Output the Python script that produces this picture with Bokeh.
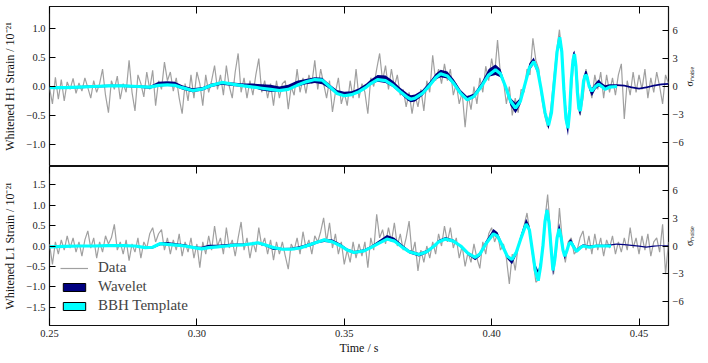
import math
from bokeh.plotting import figure
from bokeh.models import Range1d, LinearAxis, FixedTicker, Legend, LegendItem
from bokeh.layouts import column
from bokeh.embed import file_html
from bokeh.resources import INLINE

# ---------------- data ----------------
T0 = 0.250      # first sample time of the whitened data (s)
DT = 0.001      # sample spacing used for the read-off data (s)

h1_data = [
    -0.02, -0.30, 0.16, -0.22, 0.12, -0.25, 0.08, -0.05, 0.14, -0.12,
    0.06, -0.08, 0.15, -0.02, -0.20, 0.10, -0.10, 0.05, 0.30, -0.15,
    -0.45, 0.10, -0.05, 0.18, -0.22, 0.05, -0.10, 0.45, -0.10, -0.42,
    0.20, 0.05, -0.18, 0.25, -0.05, 0.28, -0.33, 0.10, -0.05, 0.42,
    0.10, 0.25, -0.08, 0.15, -0.20, -0.47, 0.05, -0.25, 0.20, -0.20,
    0.25, 0.05, -0.33, 0.20, -0.10, 0.10, 0.36, -0.05, 0.20, -0.15,
    0.36, 0.00, -0.20, 0.25, 0.57, -0.10, 0.15, -0.20, 0.10, -0.15,
    0.20, 0.48, -0.10, 0.10, -0.20, 0.05, -0.33, 0.10, -0.20, 0.05,
    0.10, -0.39, 0.00, -0.15, 0.30, -0.10, 0.15, -0.12, 0.20, 0.05,
    0.45, -0.05, 0.30, 0.05, -0.20, 0.10, -0.44, -0.10, 0.15, -0.30,
    -0.10, -0.33, 0.10, -0.20, 0.30, -0.20, 0.05, -0.10, -0.47, 0.15,
    0.00, 0.30, 0.57, 0.10, 0.36, -0.05, 0.30, 0.00, 0.20, -0.15,
    -0.05, -0.35, -0.10, -0.47, -0.15, -0.35, -0.05, -0.42, 0.10, -0.10,
    0.54, 0.10, 0.30, 0.05, 0.39, 0.10, 0.30, -0.15, 0.05, -0.30,
    -0.10, -0.70, -0.15, -0.40, 0.00, -0.30, 0.15, -0.10, 0.35, 0.10,
    0.48, 0.20, 0.80, 0.20, 0.10, -0.30, 0.00, -0.50, -0.20, -0.45,
    -0.05, -0.10, 0.30, 0.20, 0.83, 0.45, 0.30, -0.20, -0.50, -0.70,
    -0.40, 0.10, 0.60, 0.98, 0.50, -0.30, -0.70, -0.10, 0.55, 0.20,
    -0.50, -0.20, 0.30, 0.05, -0.20, 0.20, -0.05, 0.25, -0.20, 0.20,
    -0.10, 0.15, -0.15, 0.20, 0.39, -0.56, 0.10, -0.15, 0.25, -0.10,
    0.20, -0.05, 0.30, -0.20, 0.15, -0.10, 0.25, 0.00, -0.30, 0.20, 0.05,
]

l1_data = [
    0.05, -0.45, 0.10, -0.20, 0.15, -0.10, 0.25, -0.05, 0.20, -0.15,
    0.10, -0.25, 0.15, 0.37, -0.05, 0.20, -0.30, 0.10, -0.15, 0.25,
    0.05, 0.20, 0.53, -0.10, 0.10, -0.20, 0.15, -0.36, 0.05, -0.15,
    0.20, -0.30, 0.10, -0.05, 0.30, 0.45, 0.10, 0.30, 0.40, -0.10,
    0.20, -0.20, 0.15, -0.10, 0.30, -0.25, 0.10, -0.15, 0.20, -0.30,
    0.05, -0.53, 0.10, -0.20, 0.25, -0.10, 0.49, 0.00, 0.20, -0.20,
    0.45, -0.05, 0.15, -0.25, 0.20, 0.59, -0.10, 0.20, -0.30, 0.10,
    -0.15, 0.45, 0.00, 0.20, -0.20, 0.15, -0.35, 0.10, -0.20, 0.10,
    -0.25, -0.57, 0.05, -0.10, 0.20, -0.20, 0.35, -0.05, 0.15, -0.20,
    0.25, 0.10, 0.35, 0.69, 0.10, 0.57, -0.05, 0.30, -0.20, 0.10,
    -0.45, -0.10, -0.40, 0.10, -0.30, 0.05, -0.25, 0.10, -0.53, 0.20,
    -0.10, 0.78, 0.20, 0.40, 0.05, 0.45, 0.10, 0.57, 0.00, 0.30,
    -0.10, 0.20, 0.61, -0.20, 0.10, -0.61, -0.10, -0.40, 0.00, -0.30,
    0.10, -0.20, 0.30, 0.00, 0.49, 0.10, 0.45, -0.05, 0.20, -0.30,
    0.00, -0.50, -0.15, -0.40, 0.05, -0.30, -0.55, 0.10, -0.20, 0.30,
    0.45, 0.10, 0.30, -0.10, 0.05, -0.30, -0.93, -0.20, -0.60, 0.00,
    0.20, 0.50, 0.81, 0.30, -0.30, -0.89, -0.81, -0.20, 0.60, 1.26,
    0.30, -0.69, -0.10, 0.93, 0.10, -0.40, 0.10, 0.20, -0.20, -0.10,
    0.20, 0.37, -0.10, 0.25, -0.20, 0.30, -0.10, 0.20, -0.25, 0.15,
    -0.05, 0.25, -0.20, 0.10, -0.15, 0.20, -0.10, 0.45, -0.05, 0.20,
    -0.20, 0.25, -0.10, 0.30, -0.25, 0.10, 0.20, -0.15, 0.53, -0.69, 0.10,
]

data_t = [round(T0 + DT * i, 4) for i in range(len(h1_data))]

# H1 reconstructions
h1_wave_t = [
    0.250, 0.255, 0.260, 0.265, 0.270, 0.275, 0.280, 0.284, 0.287, 0.290,
    0.2925, 0.295, 0.2985, 0.302, 0.305, 0.3085, 0.312, 0.316, 0.319, 0.322,
    0.325, 0.328, 0.331, 0.334, 0.337, 0.340, 0.3425, 0.345, 0.3475, 0.350,
    0.3525, 0.355, 0.3575, 0.359, 0.3613, 0.364, 0.3665, 0.369, 0.3715, 0.3726,
    0.374, 0.3765, 0.379, 0.381, 0.3827, 0.385, 0.3872, 0.3895, 0.3917, 0.394,
    0.3965, 0.399, 0.4013, 0.403, 0.4047, 0.4064, 0.4081, 0.4097, 0.4112, 0.4128,
    0.4143, 0.4156, 0.4168, 0.4181, 0.4193, 0.4203, 0.4212, 0.4222, 0.4231, 0.4238,
    0.4245, 0.4252, 0.4259, 0.4265, 0.4270, 0.4276, 0.4281, 0.4286, 0.4291, 0.4296,
    0.4301, 0.4307, 0.4312, 0.4318, 0.4323, 0.4331, 0.4340, 0.4352, 0.4363, 0.4374,
    0.4385, 0.4400, 0.4425, 0.4450, 0.4475, 0.4500, 0.4525, 0.4550, 0.4575, 0.4600,
]
h1_wavelet_lo = [
    -0.04, -0.04, -0.03, -0.02, -0.01, -0.01, -0.02, -0.04, 0.00, 0.01,
    0.00, -0.05, -0.10, -0.07, -0.01, 0.03, 0.01, -0.01, -0.02, -0.07,
    -0.09, -0.09, -0.06, 0.00, 0.04, 0.06, 0.04, -0.04, -0.14, -0.17,
    -0.15, -0.10, -0.02, 0.04, 0.08, 0.06, -0.01, -0.12, -0.24, -0.27,
    -0.26, -0.16, -0.01, 0.12, 0.16, 0.14, 0.02, -0.15, -0.25, -0.20,
    -0.02, 0.17, 0.20, 0.16, -0.03, -0.33, -0.46, -0.32, -0.02, 0.28,
    0.38, 0.22, -0.10, -0.50, -0.74, -0.50, 0.00, 0.55, 0.75, 0.50,
    -0.12, -0.65, -0.85, -0.50, 0.05, 0.45, 0.55, 0.30, -0.15, -0.45,
    -0.50, -0.20, 0.05, 0.18, 0.15, -0.06, -0.17, -0.05, 0.00, -0.02,
    -0.04, 0.00, 0.01, 0.00, -0.03, -0.05, -0.03, 0.00, 0.02, 0.03,
]
h1_wavelet_hi = [
    0.00, 0.00, 0.01, 0.02, 0.03, 0.03, 0.02, 0.01, 0.08, 0.09,
    0.08, 0.02, -0.03, -0.01, 0.05, 0.08, 0.07, 0.05, 0.05, 0.04,
    0.03, 0.00, 0.03, 0.10, 0.13, 0.16, 0.15, 0.04, -0.06, -0.09,
    -0.08, -0.03, 0.05, 0.12, 0.20, 0.19, 0.10, -0.02, -0.12, -0.15,
    -0.14, -0.06, 0.08, 0.22, 0.29, 0.26, 0.12, -0.06, -0.17, -0.12,
    0.06, 0.30, 0.38, 0.30, 0.03, -0.20, -0.28, -0.20, 0.06, 0.40,
    0.50, 0.32, 0.00, -0.40, -0.62, -0.38, 0.10, 0.68, 0.88, 0.65,
    0.02, -0.48, -0.65, -0.30, 0.15, 0.58, 0.62, 0.42, -0.05, -0.33,
    -0.36, -0.08, 0.18, 0.27, 0.26, 0.06, -0.03, 0.06, 0.12, 0.06,
    0.02, 0.04, 0.04, 0.03, 0.00, -0.02, 0.00, 0.03, 0.05, 0.06,
]
h1_template = [
    -0.02, -0.02, -0.01, 0.00, 0.01, 0.01, 0.00, -0.01, 0.02, 0.03,
    0.02, -0.02, -0.07, -0.04, 0.02, 0.07, 0.04, 0.01, -0.01, -0.03,
    -0.05, -0.07, -0.05, 0.02, 0.08, 0.12, 0.11, 0.00, -0.12, -0.16,
    -0.14, -0.09, -0.01, 0.05, 0.12, 0.10, 0.02, -0.09, -0.19, -0.22,
    -0.20, -0.12, 0.02, 0.15, 0.22, 0.18, 0.05, -0.12, -0.23, -0.17,
    0.00, 0.20, 0.29, 0.22, 0.00, -0.25, -0.37, -0.26, 0.02, 0.32,
    0.43, 0.28, -0.05, -0.45, -0.67, -0.45, 0.05, 0.60, 0.85, 0.60,
    -0.05, -0.55, -0.72, -0.40, 0.10, 0.45, 0.56, 0.35, -0.10, -0.38,
    -0.42, -0.15, 0.10, 0.20, 0.18, 0.00, -0.08, 0.00, 0.04, 0.00,
    -0.05, -0.01, 0.00,
]

# L1 reconstructions
l1_wave_t = [
    0.250, 0.255, 0.260, 0.265, 0.270, 0.275, 0.279, 0.2825, 0.285, 0.2876,
    0.290, 0.293, 0.296, 0.299, 0.3016, 0.304, 0.307, 0.310, 0.313, 0.316,
    0.319, 0.3207, 0.323, 0.326, 0.329, 0.332, 0.335, 0.3387, 0.341, 0.3432,
    0.346, 0.3489, 0.351, 0.3533, 0.3567, 0.359, 0.3615, 0.3645, 0.367, 0.3695,
    0.372, 0.3753, 0.378, 0.3805, 0.382, 0.3843, 0.387, 0.3895, 0.392, 0.3944,
    0.396, 0.398, 0.4006, 0.402, 0.4037, 0.4053, 0.4069, 0.4084, 0.410, 0.4117,
    0.4128, 0.4138, 0.4148, 0.4158, 0.4166, 0.4174, 0.4181, 0.4188, 0.4195, 0.4201,
    0.4208, 0.4214, 0.4222, 0.4229, 0.4236, 0.4242, 0.4248, 0.4256, 0.4262, 0.4269,
    0.4278, 0.4288, 0.430, 0.431, 0.4332, 0.4355, 0.438, 0.4405, 0.4423, 0.445,
    0.4475, 0.450, 0.4524, 0.455, 0.4575, 0.460,
]
l1_wavelet_lo = [
    -0.04, -0.03, -0.02, -0.02, -0.01, -0.01, -0.02, -0.06, -0.06, 0.02,
    0.02, 0.00, -0.02, -0.06, -0.07, -0.06, -0.04, -0.02, 0.00, 0.01,
    0.03, 0.05, 0.00, -0.10, -0.10, -0.10, -0.07, 0.00, 0.07, 0.10,
    0.08, -0.03, -0.13, -0.19, -0.15, -0.06, 0.04, 0.14, 0.10, -0.04,
    -0.18, -0.26, -0.18, -0.03, 0.08, 0.14, 0.09, -0.03, -0.22, -0.35,
    -0.26, 0.02, 0.26, 0.20, -0.03, -0.32, -0.45, -0.22, 0.16, 0.48,
    0.35, -0.12, -0.55, -0.68, -0.45, 0.00, 0.55, 0.80, 0.50, -0.05,
    -0.73, -0.45, 0.18, 0.40, 0.18, -0.15, -0.33, -0.15, 0.03, 0.08,
    -0.04, -0.16, -0.08, -0.01, -0.03, -0.01, 0.00, 0.01, 0.03, 0.02,
    0.00, -0.02, -0.04, -0.02, 0.00, 0.00,
]
l1_wavelet_hi = [
    0.00, 0.01, 0.02, 0.02, 0.03, 0.03, 0.02, -0.02, 0.00, 0.09,
    0.10, 0.07, 0.04, -0.01, -0.02, 0.03, 0.03, 0.05, 0.06, 0.06,
    0.08, 0.08, 0.05, -0.02, -0.05, -0.04, 0.00, 0.08, 0.13, 0.18,
    0.16, 0.05, -0.06, -0.12, -0.08, 0.00, 0.12, 0.27, 0.20, 0.04,
    -0.10, -0.17, -0.10, 0.03, 0.15, 0.22, 0.16, 0.02, -0.15, -0.25,
    -0.16, 0.12, 0.42, 0.34, 0.05, -0.22, -0.30, -0.10, 0.30, 0.67,
    0.50, -0.02, -0.45, -0.60, -0.35, 0.10, 0.70, 0.93, 0.62, 0.05,
    -0.58, -0.30, 0.30, 0.56, 0.30, -0.05, -0.20, -0.05, 0.12, 0.17,
    0.05, -0.08, 0.00, 0.04, 0.01, 0.03, 0.03, 0.04, 0.06, 0.05,
    0.03, 0.01, -0.01, 0.01, 0.02, 0.02,
]
l1_template = [
    -0.02, -0.01, 0.00, 0.00, 0.01, 0.01, 0.00, -0.04, -0.03, 0.06,
    0.04, 0.02, 0.00, -0.04, -0.07, -0.04, -0.02, 0.00, 0.02, 0.03,
    0.06, 0.08, 0.03, -0.04, -0.08, -0.08, -0.05, 0.04, 0.10, 0.15,
    0.10, 0.00, -0.10, -0.16, -0.12, -0.04, 0.06, 0.17, 0.12, -0.02,
    -0.14, -0.21, -0.14, 0.00, 0.10, 0.17, 0.12, 0.00, -0.18, -0.28,
    -0.20, 0.05, 0.30, 0.24, 0.00, -0.25, -0.33, -0.15, 0.20, 0.54,
    0.40, -0.10, -0.60, -0.85, -0.50, 0.00, 0.60, 0.88, 0.55, 0.00,
    -0.60, -0.35, 0.20, 0.42, 0.20, -0.10, -0.25, -0.10, 0.05, 0.09,
    -0.02, -0.13, -0.05, 0.00, -0.03, 0.00, 0.00, 0.00,
]

x_ticks = [0.25, 0.30, 0.35, 0.40, 0.45]
x_tick_labels = ["0.25", "0.30", "0.35", "0.40", "0.45"]
h1_y_ticks = [-1.0, -0.5, 0.0, 0.5, 1.0]
h1_y_tick_labels = ["\u22121.0", "\u22120.5", "0.0", "0.5", "1.0"]
l1_y_ticks = [-1.5, -1.0, -0.5, 0.0, 0.5, 1.0, 1.5]
l1_y_tick_labels = ["\u22121.5", "\u22121.0", "\u22120.5", "0.0", "0.5", "1.0", "1.5"]
sigma_ticks = [-6, -3, 0, 3, 6]
sigma_tick_labels = ["\u22126", "\u22123", "0", "3", "6"]

# ---------------- styling ----------------
FONT = "'Liberation Serif', serif"
TICK_FS = "10.5px"
LABEL_FS = "12px"
GRAY = "#a0a0a0"
NAVY = "#000080"
CYAN = "#00ffff"
WIDTH = 705
NAN = float("nan")

x_range = Range1d(0.25, 0.46)


def style_axis(ax, labels_visible=True):
    ax.axis_line_color = None
    ax.major_tick_in = 6
    ax.major_tick_out = 0
    ax.minor_tick_in = 0
    ax.minor_tick_out = 0
    ax.major_tick_line_color = "black"
    ax.major_tick_line_width = 1
    ax.major_label_text_font = FONT
    ax.major_label_text_color = "#222222"
    ax.axis_label_text_font = FONT
    ax.axis_label_text_font_size = LABEL_FS
    ax.axis_label_text_font_style = "normal"
    ax.axis_label_text_color = "#111111"
    if labels_visible:
        ax.major_label_text_font_size = TICK_FS
        ax.major_label_standoff = 4
    else:
        ax.major_label_text_font_size = "0px"
        ax.major_label_text_color = None
        ax.major_label_standoff = 0


def make_panel(height, y_half, data_vals, wave_t, w_lo, w_hi, tmpl, ylabel,
               y_ticks, y_labels, bottom_labels):
    p = figure(width=WIDTH, height=height, x_range=x_range,
               y_range=Range1d(-y_half, y_half),
               output_backend="svg", toolbar_location=None,
               x_axis_location=None, y_axis_location=None,
               min_border_left=48, min_border_right=37,
               min_border_top=0, min_border_bottom=0,
               background_fill_color="white", border_fill_color="white")
    p.xgrid.grid_line_color = None
    p.ygrid.grid_line_color = None
    p.outline_line_color = "#111111"
    p.outline_line_width = 1.2
    p.outline_line_alpha = 1.0
    p.extra_y_ranges = {"sigma": Range1d(-8.55, 8.55)}

    left = LinearAxis(ticker=FixedTicker(ticks=y_ticks),
                      major_label_overrides=dict(zip(y_ticks, y_labels)),
                      axis_label=ylabel)
    style_axis(left)
    left.axis_label_standoff = 6
    p.add_layout(left, "left")

    right = LinearAxis(y_range_name="sigma", ticker=FixedTicker(ticks=sigma_ticks),
                       major_label_overrides=dict(zip(sigma_ticks, sigma_tick_labels)),
                       axis_label="\u03c3\u2099\u2092\u1d62\u209b\u2091")
    style_axis(right)
    right.major_label_standoff = 4
    right.axis_label_standoff = 3
    right.axis_label_text_font_size = "10px"
    right.axis_label_orientation = math.pi / 2
    p.add_layout(right, "right")

    top = LinearAxis(ticker=FixedTicker(ticks=x_ticks))
    style_axis(top, labels_visible=False)
    top.major_tick_in = 7
    p.add_layout(top, "above")

    if bottom_labels:
        bot = LinearAxis(ticker=FixedTicker(ticks=x_ticks),
                         major_label_overrides=dict(zip(x_ticks, x_tick_labels)),
                         axis_label="Time / s")
        style_axis(bot)
        bot.major_tick_in = 7
        bot.axis_label_standoff = 1
        p.add_layout(bot, "below")

    r_data = p.line(data_t, data_vals, line_color=GRAY, line_width=1.2)
    p.varea(x=wave_t, y1=w_lo, y2=w_hi, fill_color=NAVY)
    p.line(wave_t[:len(tmpl)], tmpl, line_color=CYAN, line_width=3.2)
    return p, r_data


p1, _ = make_panel(160, 1.38, h1_data, h1_wave_t, h1_wavelet_lo, h1_wavelet_hi,
                   h1_template, "Whitened H1 Strain / 10\u207b\u00b2\u00b9",
                   h1_y_ticks, h1_y_tick_labels, False)
p2, r_data2 = make_panel(191, 1.95, l1_data, l1_wave_t, l1_wavelet_lo, l1_wavelet_hi,
                         l1_template, "Whitened L1 Strain / 10\u207b\u00b2\u00b9",
                         l1_y_ticks, l1_y_tick_labels, True)

# legend swatches: one NaN entry each, so nothing is drawn in the plot area
r_wav_sw = p2.quad(left=[NAN], right=[NAN], top=[NAN], bottom=[NAN],
                   fill_color=NAVY, line_color="black", line_width=1)
r_tmp_sw = p2.quad(left=[NAN], right=[NAN], top=[NAN], bottom=[NAN],
                   fill_color=CYAN, line_color="black", line_width=1)

legend = Legend(items=[LegendItem(label="Data", renderers=[r_data2]),
                       LegendItem(label="Wavelet", renderers=[r_wav_sw]),
                       LegendItem(label="BBH Template", renderers=[r_tmp_sw])],
                location=(11, 10), padding=0, margin=0, spacing=0,
                label_height=19, glyph_height=10, glyph_width=28,
                label_standoff=10, label_text_font=FONT,
                label_text_font_size="15px", background_fill_alpha=0,
                border_line_alpha=0)
p2.add_layout(legend)

layout = column(p1, p2, spacing=0)
layout.margin = (6, 0, 0, 0)

open("out.html", "w").write(file_html(layout, INLINE))
